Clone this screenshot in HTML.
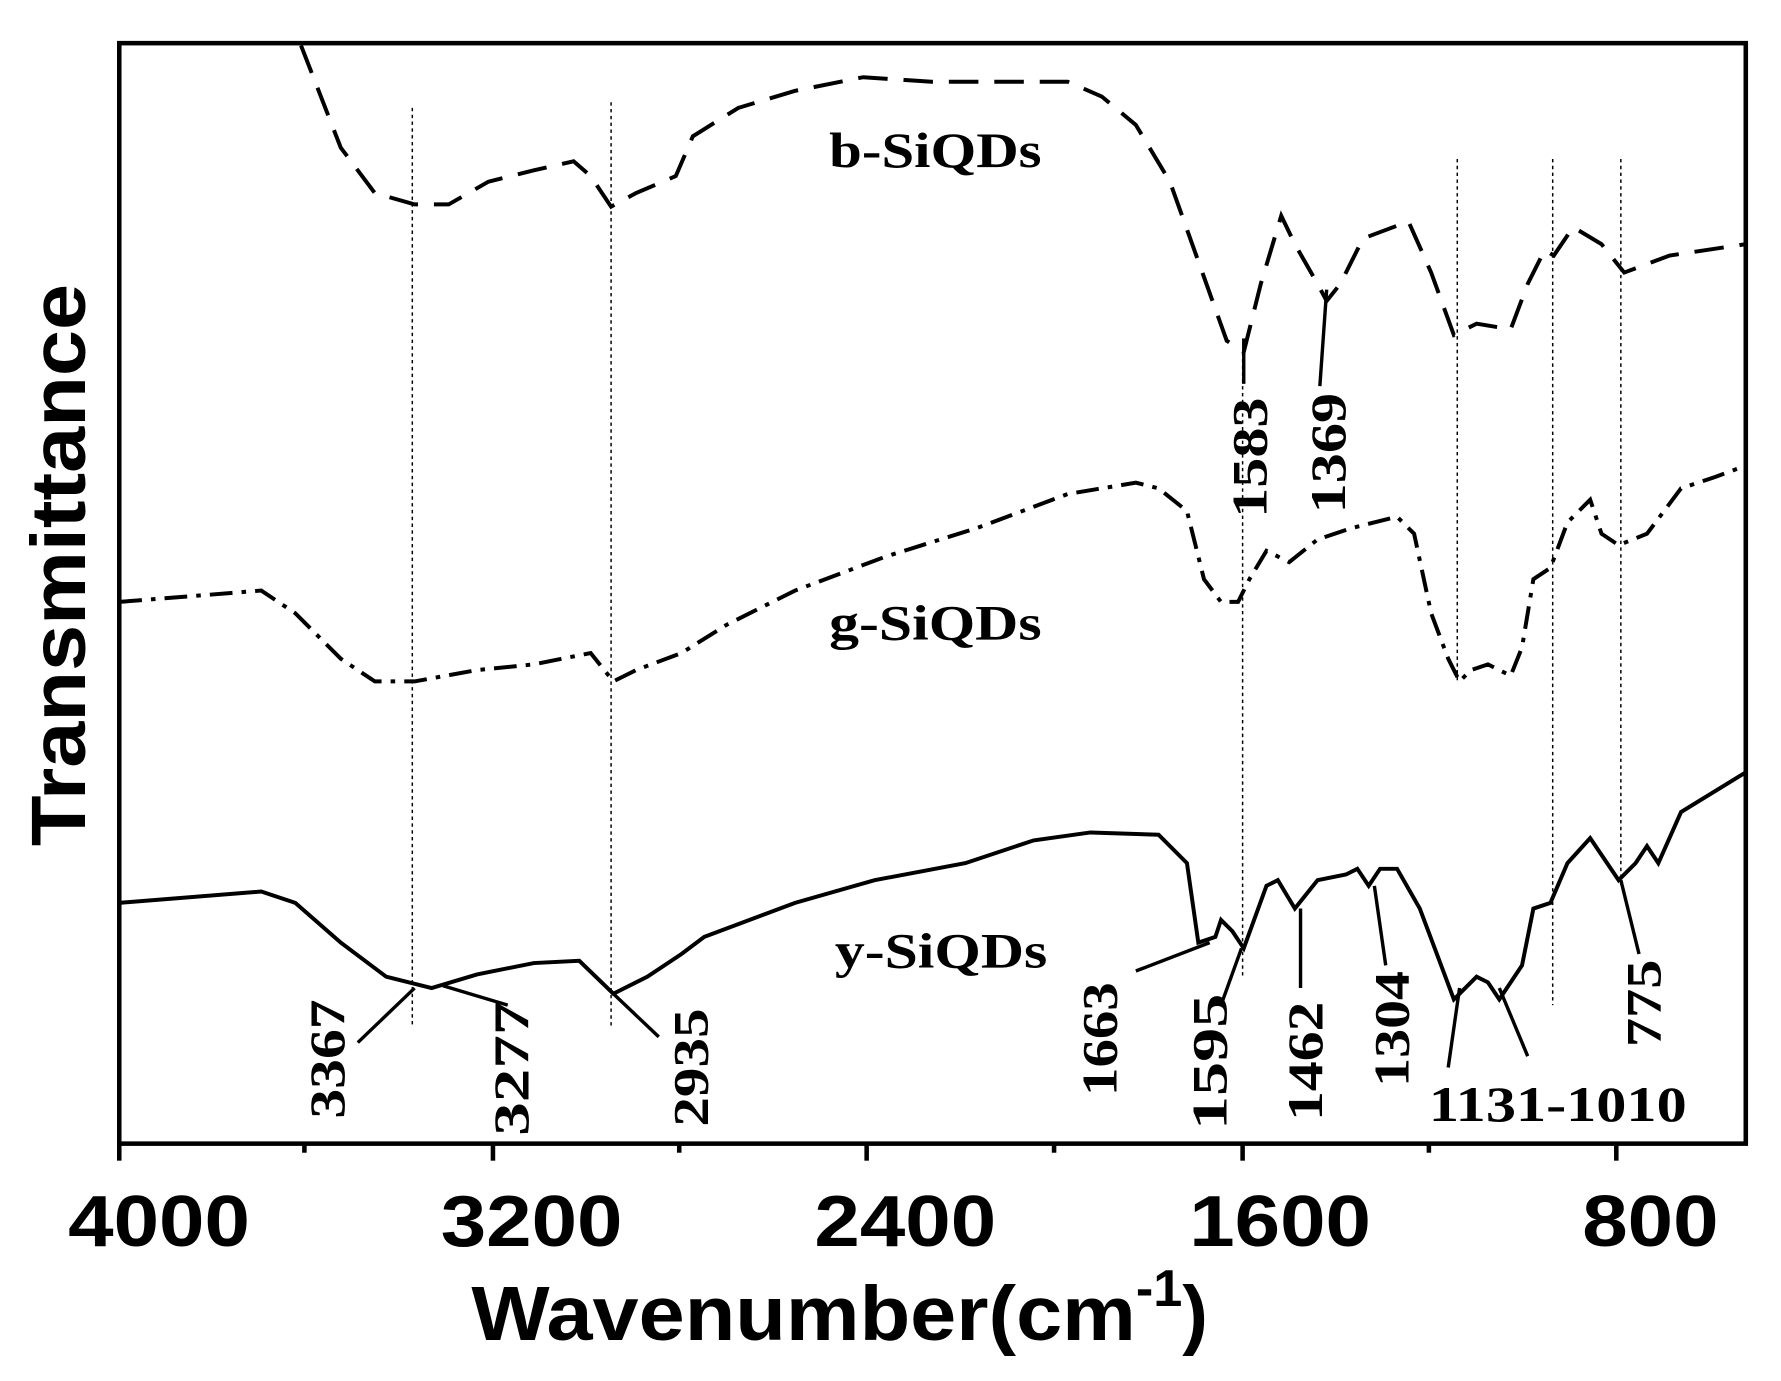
<!DOCTYPE html>
<html><head><meta charset="utf-8"><style>html,body{margin:0;padding:0;background:#fff}svg{display:block}</style></head>
<body>
<svg width="1781" height="1381" viewBox="0 0 1568 1216" preserveAspectRatio="none" xmlns="http://www.w3.org/2000/svg">
<rect width="1568" height="1216" fill="#fff"/>
<g stroke="#000" stroke-width="1.3" stroke-dasharray="3,3" fill="none">
<line x1="363" y1="95" x2="363" y2="905"/>
<line x1="538" y1="90" x2="538" y2="905"/>
<line x1="1094" y1="310" x2="1094" y2="862"/>
<line x1="1283" y1="140" x2="1283" y2="600"/>
<line x1="1367" y1="140" x2="1367" y2="885"/>
<line x1="1427" y1="140" x2="1427" y2="780"/>
</g>
<polyline fill="none" stroke="#000" stroke-width="3.5" stroke-dasharray="26,14" points="265,40 300,130 330,170 365,180 395,180 430,160 470,150 505,142 520,155 538,182 560,170 595,155 610,120 650,95 700,80 760,68 820,72 900,72 940,72 970,85 1000,110 1030,160 1055,230 1080,300 1095,310 1110,250 1128,190 1140,215 1160,250 1168,265 1180,250 1200,210 1240,195 1260,240 1280,295 1300,285 1330,290 1345,250 1360,220 1368,225 1385,200 1410,215 1430,240 1470,225 1537,215"/>
<polyline fill="none" stroke="#000" stroke-width="3.5" stroke-dasharray="20,8,4,8" points="105,530 230,520 260,540 300,580 330,600 365,600 420,590 470,585 520,575 540,600 560,590 600,575 640,550 700,520 780,490 860,465 940,435 1000,425 1020,430 1045,450 1060,510 1075,530 1090,530 1100,510 1115,485 1135,495 1160,475 1190,465 1230,455 1245,470 1260,540 1275,580 1285,600 1295,590 1310,585 1330,595 1340,570 1350,510 1365,500 1380,460 1400,440 1410,470 1425,480 1450,470 1480,430 1510,420 1537,410"/>
<polyline fill="none" stroke="#000" stroke-width="3.5" points="105,795 230,785 260,795 300,830 340,860 380,870 420,858 470,848 510,846 540,875 570,860 600,840 620,825 700,795 770,775 850,760 910,740 960,733 1020,735 1045,760 1055,830 1070,825 1075,810 1085,820 1095,835 1115,780 1125,775 1140,800 1160,775 1185,770 1195,765 1205,780 1215,765 1230,765 1250,800 1265,840 1280,880 1300,860 1310,865 1320,880 1340,850 1350,800 1365,795 1380,760 1400,738 1425,775 1440,760 1450,745 1460,760 1480,715 1537,680"/>
<g stroke="#000" stroke-width="3" fill="none">
<line x1="315" y1="918" x2="365" y2="870"/>
<line x1="390" y1="868" x2="447" y2="885"/>
<line x1="540" y1="875" x2="580" y2="913"/>
<line x1="1000" y1="855" x2="1065" y2="830"/>
<line x1="1075" y1="885" x2="1093" y2="835"/>
<line x1="1145" y1="800" x2="1145" y2="870"/>
<line x1="1210" y1="780" x2="1220" y2="850"/>
<line x1="1275" y1="940" x2="1285" y2="870"/>
<line x1="1320" y1="870" x2="1345" y2="930"/>
<line x1="1427" y1="775" x2="1443" y2="840"/>
<line x1="1095" y1="298" x2="1095" y2="338"/>
<line x1="1162" y1="340" x2="1168" y2="255"/>
</g>
<rect x="105" y="38" width="1432" height="969" fill="none" stroke="#000" stroke-width="4"/>
<g stroke="#000" stroke-width="4">
<line x1="105" y1="1007" x2="105" y2="1022"/><line x1="434" y1="1007" x2="434" y2="1022"/><line x1="763" y1="1007" x2="763" y2="1022"/><line x1="1094" y1="1007" x2="1094" y2="1022"/><line x1="1423" y1="1007" x2="1423" y2="1022"/>
<line x1="268" y1="1007" x2="268" y2="1015"/><line x1="598" y1="1007" x2="598" y2="1015"/><line x1="928" y1="1007" x2="928" y2="1015"/><line x1="1258" y1="1007" x2="1258" y2="1015"/>
</g>
<g font-family="Liberation Serif, serif" font-weight="bold" font-size="44" fill="#000" lengthAdjust="spacingAndGlyphs">
<text x="730" y="147" textLength="187" lengthAdjust="spacingAndGlyphs">b-SiQDs</text>
<text x="730" y="563" textLength="187" lengthAdjust="spacingAndGlyphs">g-SiQDs</text>
<text x="735" y="852" textLength="187" lengthAdjust="spacingAndGlyphs">y-SiQDs</text>
<text x="1258" y="987" textLength="227" lengthAdjust="spacingAndGlyphs">1131-1010</text>
<text transform="translate(303,985) rotate(-90)" textLength="105" lengthAdjust="spacingAndGlyphs">3367</text>
<text transform="translate(465,1000) rotate(-90)" textLength="118" lengthAdjust="spacingAndGlyphs">3277</text>
<text transform="translate(623,992) rotate(-90)" textLength="104" lengthAdjust="spacingAndGlyphs">2935</text>
<text transform="translate(983,965) rotate(-90)" textLength="100" lengthAdjust="spacingAndGlyphs">1663</text>
<text transform="translate(1080,995) rotate(-90)" textLength="120" lengthAdjust="spacingAndGlyphs">1595</text>
<text transform="translate(1164,987) rotate(-90)" textLength="105" lengthAdjust="spacingAndGlyphs">1462</text>
<text transform="translate(1240,957) rotate(-90)" textLength="102" lengthAdjust="spacingAndGlyphs">1304</text>
<text transform="translate(1462,922) rotate(-90)" textLength="77" lengthAdjust="spacingAndGlyphs">775</text>
<text transform="translate(1115,456) rotate(-90)" textLength="106" lengthAdjust="spacingAndGlyphs">1583</text>
<text transform="translate(1184,452) rotate(-90)" textLength="106" lengthAdjust="spacingAndGlyphs">1369</text>
</g>
<g font-family="Liberation Sans, sans-serif" font-weight="bold" font-size="64" fill="#000">
<text x="60" y="1097" textLength="160" lengthAdjust="spacingAndGlyphs">4000</text>
<text x="388" y="1097" textLength="160" lengthAdjust="spacingAndGlyphs">3200</text>
<text x="717" y="1097" textLength="160" lengthAdjust="spacingAndGlyphs">2400</text>
<text x="1047" y="1097" textLength="160" lengthAdjust="spacingAndGlyphs">1600</text>
<text x="1393" y="1097" textLength="120" lengthAdjust="spacingAndGlyphs">800</text>
</g>
<text x="415" y="1180" font-family="Liberation Sans, sans-serif" font-weight="bold" font-size="68"><tspan textLength="585" lengthAdjust="spacingAndGlyphs">Wavenumber(cm</tspan><tspan font-size="46" dy="-30">-1</tspan><tspan dy="30">)</tspan></text>
<text transform="translate(75,745) rotate(-90)" font-family="Liberation Sans, sans-serif" font-weight="bold" font-size="68" textLength="495" lengthAdjust="spacingAndGlyphs">Transmittance</text>
</svg>
</body></html>
